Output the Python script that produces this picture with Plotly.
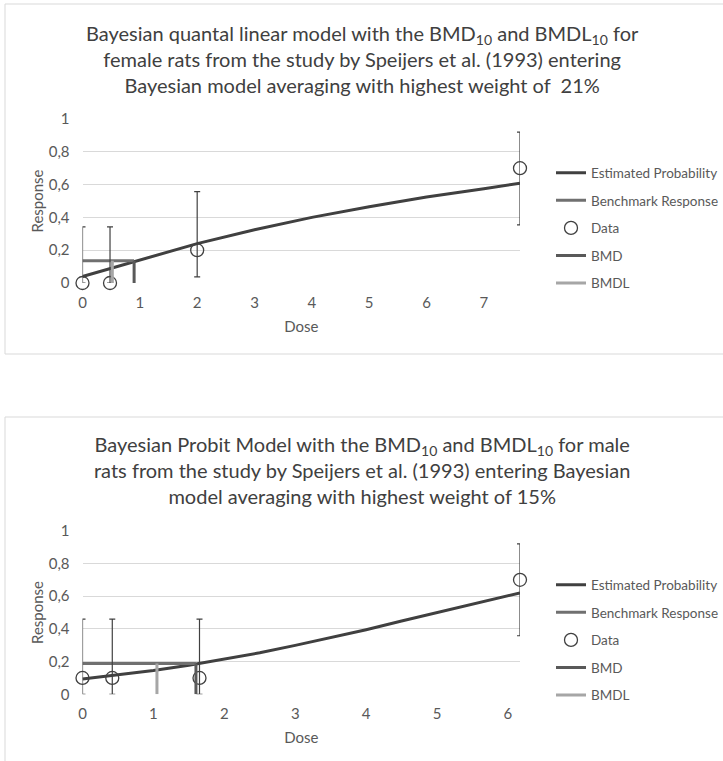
import plotly.graph_objects as go

# ---------------- data: female rats (top chart) ----------------
f_curve_dose = [0, 0.5, 1, 2, 3, 4, 5, 6, 7, 7.63]
f_curve_resp = [0.04, 0.09, 0.136, 0.24, 0.325, 0.40, 0.465, 0.525, 0.575, 0.608]
f_data_dose = [0, 0.48, 2.0, 7.63]
f_data_resp = [0.0, 0.0, 0.2, 0.7]
f_err_up = [0.342, 0.342, 0.357, 0.22]
f_err_down = [0.0, 0.0, 0.163, 0.345]
f_bmr = 0.136
f_bmd = 0.9
f_bmdl = 0.52
f_xmax = 7.63

# ---------------- data: male rats (bottom chart) ----------------
m_curve_dose = [0, 0.5, 1, 1.5, 2, 2.5, 3, 3.5, 4, 4.5, 5, 5.5, 6, 6.17]
m_curve_resp = [0.094, 0.118, 0.146, 0.178, 0.214, 0.254, 0.299, 0.347,
                0.395, 0.448, 0.50, 0.552, 0.603, 0.62]
m_data_dose = [0, 0.42, 1.65, 6.17]
m_data_resp = [0.1, 0.1, 0.1, 0.7]
m_err_up = [0.36, 0.36, 0.36, 0.22]
m_err_down = [0.1, 0.1, 0.1, 0.342]
m_bmr = 0.188
m_bmd = 1.60
m_bmdl = 1.05
m_xmax = 6.17

y_ticks = [0, 0.2, 0.4, 0.6, 0.8, 1]
y_ticktext = ["0", "0,2", "0,4", "0,6", "0,8", "1"]

titles = [
    "Bayesian quantal linear model with the BMD<sub>10</sub> and BMDL<sub>10</sub> for<br>"
    "female rats from the study by Speijers et al. (1993) entering<br>"
    "Bayesian model averaging with highest weight of  21%",
    "Bayesian Probit Model with the BMD<sub>10</sub> and BMDL<sub>10</sub> for male<br>"
    "rats from the study by Speijers et al. (1993) entering Bayesian<br>"
    "model averaging with highest weight of 15%",
]

FONT = "Lato"
TXT = "#595959"
DARK = "#404040"
W, H = 723, 761

fig = go.Figure()


def add_chart(cd, cr, dd, dr, eu, ed, bmr, bmd, bmdl, xa, ya, leg):
    fig.add_trace(go.Scatter(x=cd, y=cr, mode="lines", name="Estimated Probability",
                             line=dict(color=DARK, width=3), xaxis=xa, yaxis=ya,
                             legend=leg, legendgroup=leg + "a", cliponaxis=False))
    fig.add_trace(go.Scatter(x=[0, bmd], y=[bmr, bmr], mode="lines", name="Benchmark Response",
                             line=dict(color="#707070", width=3), xaxis=xa, yaxis=ya,
                             legend=leg, legendgroup=leg + "b", cliponaxis=False))
    fig.add_trace(go.Scatter(x=dd, y=dr, mode="markers", name="Data",
                             marker=dict(symbol="circle-open", size=13, color=DARK,
                                         line=dict(width=1.3, color=DARK)),
                             error_y=dict(type="data", array=eu, arrayminus=ed, color=DARK,
                                          thickness=1.2, width=3),
                             xaxis=xa, yaxis=ya, legend=leg, legendgroup=leg + "c",
                             cliponaxis=False))
    fig.add_trace(go.Scatter(x=[bmd, bmd], y=[0, bmr], mode="lines", name="BMD",
                             line=dict(color="#595959", width=3), xaxis=xa, yaxis=ya,
                             legend=leg, legendgroup=leg + "d", cliponaxis=False))
    fig.add_trace(go.Scatter(x=[bmdl, bmdl], y=[0, bmr], mode="lines", name="BMDL",
                             line=dict(color="#a6a6a6", width=3), xaxis=xa, yaxis=ya,
                             legend=leg, legendgroup=leg + "e", cliponaxis=False))


add_chart(f_curve_dose, f_curve_resp, f_data_dose, f_data_resp, f_err_up, f_err_down,
          f_bmr, f_bmd, f_bmdl, "x", "y", "legend")
add_chart(m_curve_dose, m_curve_resp, m_data_dose, m_data_resp, m_err_up, m_err_down,
          m_bmr, m_bmd, m_bmdl, "x2", "y2", "legend2")


def py(px):
    return 1 - px / H


xdom = [82.5 / W, 520 / W]
axfont = dict(family=FONT, size=15, color=TXT)

common_x = dict(showgrid=False, zeroline=False, showline=False, ticks="",
                tickfont=axfont, ticklabelstandoff=9,
                title=dict(text="Dose", font=axfont, standoff=11),
                fixedrange=True)
common_y = dict(tickvals=y_ticks, ticktext=y_ticktext, showgrid=True, gridcolor="#d9d9d9",
                gridwidth=1, zeroline=False, showline=False, ticks="", range=[0, 1],
                tickfont=axfont, ticklabelstandoff=12,
                title=dict(text="Response", font=axfont, standoff=1),
                fixedrange=True)

legfont = dict(family=FONT, size=13.5, color=TXT)

fig.update_layout(
    width=W, height=H,
    margin=dict(l=0, r=0, t=0, b=0, autoexpand=False),
    paper_bgcolor="white", plot_bgcolor="white",
    xaxis=dict(domain=xdom, range=[0, f_xmax], tickvals=list(range(0, 8)), anchor="y",
               **common_x),
    yaxis=dict(domain=[py(283), py(119)], anchor="x", **common_y),
    xaxis2=dict(domain=xdom, range=[0, m_xmax], tickvals=list(range(0, 7)), anchor="y2",
                **common_x),
    yaxis2=dict(domain=[py(694.3), py(530.7)], anchor="x2", **common_y),
    legend=dict(x=551 / W, xanchor="left", y=py(228), yanchor="middle",
                font=legfont, tracegroupgap=7, bgcolor="rgba(0,0,0,0)"),
    legend2=dict(x=551 / W, xanchor="left", y=py(640), yanchor="middle",
                 font=legfont, tracegroupgap=7, bgcolor="rgba(0,0,0,0)"),
    showlegend=True,
    shapes=[
        dict(type="rect", xref="paper", yref="paper", x0=5 / W, x1=1.05,
             y0=py(354), y1=py(4), line=dict(color="#d9d9d9", width=1)),
        dict(type="rect", xref="paper", yref="paper", x0=5 / W, x1=1.05,
             y0=-0.05, y1=py(417), line=dict(color="#d9d9d9", width=1)),
    ],
    annotations=[
        dict(text=titles[0], xref="paper", yref="paper", x=362 / W, y=py(59),
             xanchor="center", yanchor="middle", showarrow=False,
             font=dict(family=FONT, size=20, color=DARK)),
        dict(text=titles[1], xref="paper", yref="paper", x=362 / W, y=py(470),
             xanchor="center", yanchor="middle", showarrow=False,
             font=dict(family=FONT, size=20, color=DARK)),
    ],
)

fig.write_html("out.html", config={"displayModeBar": False},
               post_script="document.body.style.margin='0';")
